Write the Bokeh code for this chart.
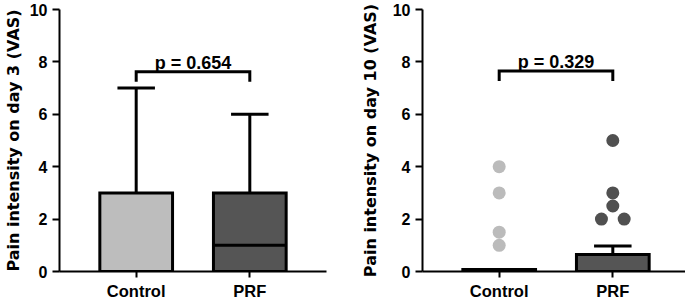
from bokeh.plotting import figure
from bokeh.layouts import row
from bokeh.models import Range1d, FixedTicker
from bokeh.embed import file_html
from bokeh.resources import INLINE
from bokeh.core.properties import value

# ---------------- data ----------------
categories = ["Control", "PRF"]

# Day 3: box plot (VAS)
day3_q1 = [0, 0]
day3_median = [0, 1]
day3_q3 = [3, 3]
day3_max = [7, 6]
day3_p = "p = 0.654"

# Day 10: bars (mean) with upper error, plus outlier points
day10_mean = [0.08, 0.65]
day10_err_top = [0.08, 0.97]
day10_points = {
    "Control": [4, 3, 1.5, 1],
    "PRF": [5, 3, 2.5, 2, 2],
}
day10_p = "p = 0.329"

y_ticks = [0, 2, 4, 6, 8, 10]
bracket_y = [7.62, 7.65]

# ---------------- style ----------------
FILL = ["#BDBDBD", "#555555"]
POINT = ["#BBBBBB", "#505050"]
BOX_HALF = 0.32
CAP_HALF = 0.165
LEG = 0.38
FONT = "Liberation Sans"
TITLE_FONT = "DejaVu Sans"

xs = [i + 1 for i in range(len(categories))]


def make_fig(ylabel, border_left, border_right, label_standoff):
    p = figure(
        output_backend="svg", toolbar_location=None,
        frame_width=267, frame_height=262,
        min_border_left=border_left, min_border_right=border_right,
        min_border_top=9, min_border_bottom=28,
        x_range=Range1d(0.325, 2.675), y_range=Range1d(0, 10),
    )
    p.outline_line_color = None
    p.xgrid.visible = False
    p.ygrid.visible = False
    p.background_fill_color = "white"
    p.border_fill_color = "white"

    for ax in (p.xaxis, p.yaxis):
        ax.axis_line_width = 2
        ax.axis_line_color = "black"
        ax.major_tick_line_width = 2
        ax.major_tick_line_color = "black"
        ax.major_tick_in = 0
        ax.minor_tick_line_color = None
        ax.major_label_text_font = FONT
        ax.major_label_text_font_style = "bold"
        ax.major_label_text_font_size = "16px"
        ax.major_label_text_color = "black"

    p.xaxis.ticker = FixedTicker(ticks=xs)
    p.xaxis.major_label_overrides = {x: c for x, c in zip(xs, categories)}
    p.xaxis.major_label_text_font_size = "16.5px"
    p.xaxis.major_tick_out = 6
    p.xaxis.major_label_standoff = 4

    p.yaxis.ticker = FixedTicker(ticks=y_ticks)
    p.yaxis.major_tick_out = 7
    p.yaxis.major_label_standoff = 5
    p.yaxis.axis_label = ylabel
    p.yaxis.axis_label_text_font = TITLE_FONT
    p.yaxis.axis_label_text_font_style = "bold"
    p.yaxis.axis_label_text_font_size = "16px"
    p.yaxis.axis_label_text_color = "black"
    p.yaxis.axis_label_standoff = label_standoff
    return p


def add_bracket(p, by, text):
    p.line(x=[xs[0], xs[0], xs[1], xs[1]], y=[by - LEG, by, by, by - LEG],
           line_color="black", line_width=3, line_join="miter")
    p.text(x=[(xs[0] + xs[1]) / 2], y=[by + 0.33], text=[text],
           text_align="center", text_baseline="alphabetic",
           text_font=value(FONT), text_font_style="bold",
           text_font_size="18px", text_color="black")


# ---------- left: day 3 ----------
p1 = make_fig("Pain intensity on day 3 (VAS)", 54, 10, 4)
left = [x - BOX_HALF for x in xs]
right = [x + BOX_HALF for x in xs]
# whiskers
p1.segment(x0=xs, y0=day3_q3, x1=xs, y1=day3_max, line_color="black", line_width=3)
p1.segment(x0=[x - CAP_HALF for x in xs], y0=day3_max,
           x1=[x + CAP_HALF for x in xs], y1=day3_max,
           line_color="black", line_width=3)
# boxes
p1.quad(left=left, right=right, bottom=day3_q1, top=day3_q3,
        fill_color=FILL, line_color="black", line_width=3, line_join="miter")
# medians
p1.segment(x0=left, y0=day3_median, x1=right, y1=day3_median,
           line_color="black", line_width=3)
add_bracket(p1, bracket_y[0], day3_p)

# ---------- right: day 10 ----------
p2 = make_fig("Pain intensity on day 10 (VAS)", 86, 1, 10)
# error bars (upper)
ex, elo, ehi = [], [], []
for x, m, t in zip(xs, day10_mean, day10_err_top):
    if t > m:
        ex.append(x); elo.append(m); ehi.append(t)
p2.segment(x0=ex, y0=elo, x1=ex, y1=ehi, line_color="black", line_width=3)
p2.segment(x0=[x - CAP_HALF for x in ex], y0=ehi,
           x1=[x + CAP_HALF for x in ex], y1=ehi,
           line_color="black", line_width=3)
p2.quad(left=left, right=right, bottom=[0] * len(xs), top=day10_mean,
        fill_color=FILL, line_color="black", line_width=3, line_join="miter")

# points: identical values spread sideways (beeswarm-like)
for x, cat, col in zip(xs, categories, POINT):
    vals = day10_points[cat]
    px, py = [], []
    for v in sorted(set(vals), reverse=True):
        n = vals.count(v)
        for k in range(n):
            px.append(x + (k - (n - 1) / 2) * 0.2)
            py.append(v)
    p2.scatter(x=px, y=py, size=13, fill_color=col, line_color=None)

add_bracket(p2, bracket_y[1], day10_p)

layout = row(p1, p2)
open("out.html", "w").write(file_html(layout, INLINE))
